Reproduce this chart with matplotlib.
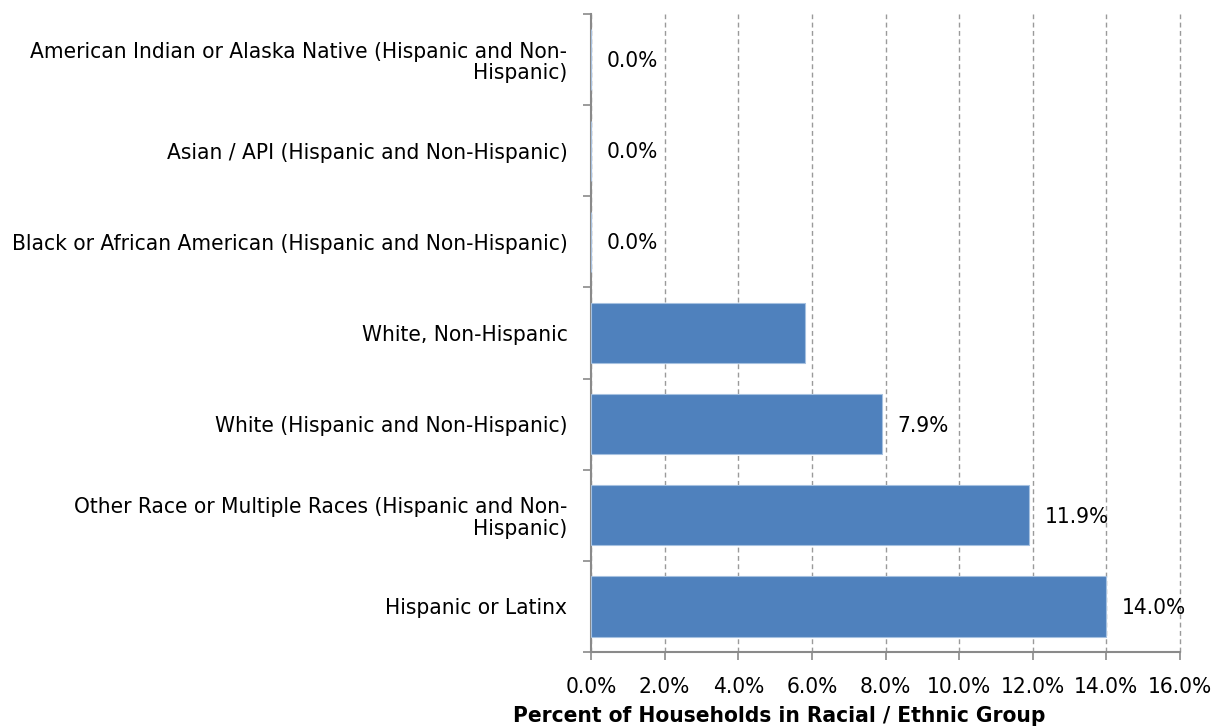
import matplotlib.pyplot as plt
from matplotlib.ticker import FixedLocator, PercentFormatter

categories = [
    "American Indian or Alaska Native (Hispanic and Non-\nHispanic)",
    "Asian / API (Hispanic and Non-Hispanic)",
    "Black or African American (Hispanic and Non-Hispanic)",
    "White, Non-Hispanic",
    "White (Hispanic and Non-Hispanic)",
    "Other Race or Multiple Races (Hispanic and Non-\nHispanic)",
    "Hispanic or Latinx",
]
values = [0.0, 0.0, 0.0, 5.8, 7.9, 11.9, 14.0]
value_labels = ["0.0%", "0.0%", "0.0%", "", "7.9%", "11.9%", "14.0%"]
x_ticks = [0, 2, 4, 6, 8, 10, 12, 14, 16]

plt.rcParams["font.family"] = ["DejaVu Sans"]
plt.rcParams["font.stretch"] = "condensed"

FS = 16.2
fig = plt.figure(figsize=(12.22, 7.27), dpi=100)
ax = fig.add_axes([591 / 1222, 1 - 652 / 727, (1180 - 591) / 1222, (652 - 14) / 727])

n = len(categories)
ypos = list(range(n))
ax.barh(ypos, values, height=0.66, color="#4F81BD", edgecolor="#A6C1E0", linewidth=0.8, zorder=3)
ax.set_ylim(n - 0.5, -0.5)
ax.set_xlim(0, 16)

ax.xaxis.set_major_locator(FixedLocator(x_ticks))
ax.xaxis.set_major_formatter(PercentFormatter(decimals=1))
ax.grid(axis="x", color="#9a9a9a", linestyle=(0, (3.5, 2.5)), linewidth=1.0, zorder=0)
ax.grid(axis="y", visible=False)
for gl in ax.get_xgridlines():
    gl.set_clip_on(False)

# category labels centered on bars, tick marks at category boundaries
ax.set_yticks(ypos)
ax.set_yticklabels(categories, fontsize=FS, ha="right", linespacing=1.1,
                   fontstretch="condensed")
ax.tick_params(axis="y", which="major", length=0, pad=17)
ax.set_yticks([i - 0.5 for i in range(n + 1)], minor=True)
ax.tick_params(axis="y", which="minor", length=6, width=1.2, color="#8a8a8a", direction="out")

ax.tick_params(axis="x", length=6, width=1.2, color="#8a8a8a", direction="out",
               labelsize=FS, pad=12)
for t in ax.get_xticklabels():
    t.set_fontstretch("condensed")

for s in ["top", "right"]:
    ax.spines[s].set_visible(False)
for s in ["left", "bottom"]:
    ax.spines[s].set_color("#8a8a8a")
    ax.spines[s].set_linewidth(1.5)

for y, v, lab in zip(ypos, values, value_labels):
    if lab:
        ax.annotate(lab, (v, y), xytext=(11, -1), textcoords="offset points",
                    ha="left", va="center", fontsize=FS, color="black",
                    fontstretch="condensed")

fig.text(779 / 1222, 1 - 716 / 727, "Percent of Households in Racial / Ethnic Group",
         fontsize=FS, fontweight="bold", fontstretch="condensed", ha="center", va="center")

fig.savefig("out.png", dpi=100)
